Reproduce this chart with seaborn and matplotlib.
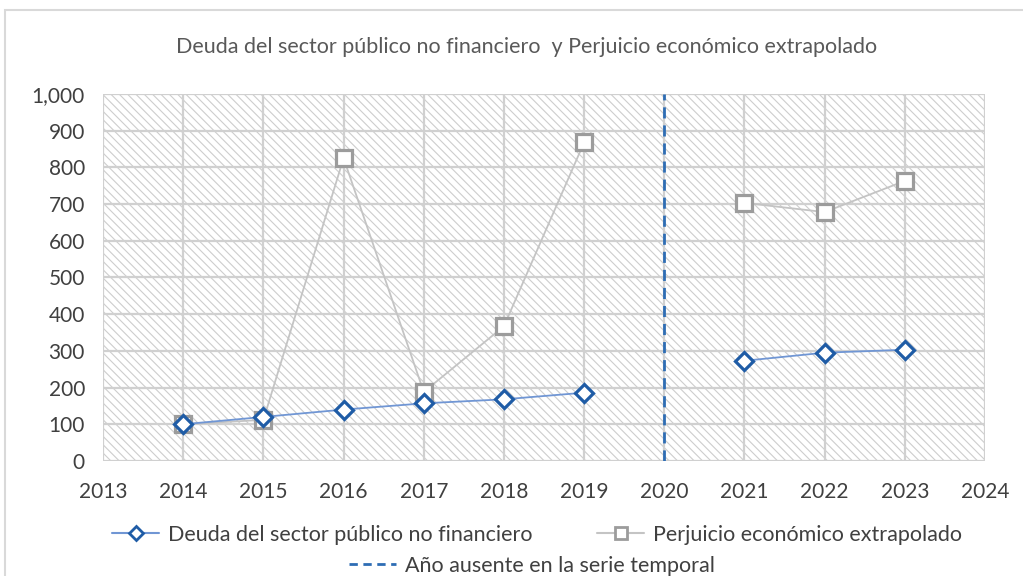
import numpy as np
import pandas as pd
import seaborn as sns
import matplotlib.pyplot as plt
from matplotlib.patches import Rectangle
from matplotlib.lines import Line2D

# datos (2020 ausente)
anios = [2014, 2015, 2016, 2017, 2018, 2019, 2021, 2022, 2023]
deuda = [100, 120, 140, 157, 168, 186, 273, 295, 303]
perjuicio = [100, 112, 825, 188, 367, 868, 703, 678, 763]
tramo = [1, 1, 1, 1, 1, 1, 2, 2, 2]
anio_ausente = 2020

df = pd.DataFrame({'anio': anios, 'deuda': deuda, 'perjuicio': perjuicio, 'tramo': tramo})

sns.set_style('white')
plt.rcParams['font.family'] = ['Lato', 'DejaVu Sans']
plt.rcParams['hatch.linewidth'] = 0.8

fig = plt.figure(figsize=(10.23, 5.76), dpi=100)
ax = fig.add_axes([0.1007, 0.1997, 0.8622, 0.6373])

# fondo rayado del area de trazado
ax.add_patch(Rectangle((0, 0), 1, 1, transform=ax.transAxes, fill=False,
                       hatch='\\\\\\\\', edgecolor='#cdcdcd', linewidth=0, zorder=0))

azul_linea = '#7096d4'
azul_marca = '#1f5ca6'
gris_linea = '#c4c4c4'
gris_marca = '#9c9c9c'

sns.lineplot(data=df, x='anio', y='perjuicio', units='tramo', estimator=None, ax=ax,
             color=gris_linea, linewidth=1.3, marker='s', markersize=12,
             markerfacecolor='white', markeredgecolor=gris_marca, markeredgewidth=2.3, zorder=3)
sns.lineplot(data=df, x='anio', y='deuda', units='tramo', estimator=None, ax=ax,
             color=azul_linea, linewidth=1.3, marker='D', markersize=9,
             markerfacecolor='white', markeredgecolor=azul_marca, markeredgewidth=2.3, zorder=4)

ax.axvline(anio_ausente, color='#2e6db4', linestyle=(0, (4, 2.5)), linewidth=2, zorder=2)

ax.set_xlim(2013, 2024)
ax.set_ylim(0, 1000)
ax.set_xticks(range(2013, 2025))
ax.set_yticks(range(0, 1001, 100))
ax.set_yticklabels([f'{v:,}' for v in range(0, 1001, 100)])
ax.grid(True, color='#d0d0d0', linewidth=1.6, zorder=1)
ax.set_axisbelow(True)
for s in ax.spines.values():
    s.set_visible(False)
ax.tick_params(axis='both', labelsize=15, colors='#404040', length=0)
ax.tick_params(axis='y', pad=13)
ax.tick_params(axis='x', pad=15)
ax.set_xlabel('')
ax.set_ylabel('')

fig.text(0.515, 0.918, 'Deuda del sector público no financiero  y Perjuicio económico extrapolado',
         ha='center', va='center', fontsize=15.5, color='#595959')

# marco del grafico
fig.patches.append(Rectangle((0.005, -0.01), 1.1, 0.993, transform=fig.transFigure,
                             fill=False, edgecolor='#d9d9d9', linewidth=1.5))

h1 = Line2D([], [], color=azul_linea, marker='D', markersize=7, markerfacecolor='white',
            markeredgecolor=azul_marca, markeredgewidth=2)
h2 = Line2D([], [], color=gris_linea, marker='s', markersize=9, markerfacecolor='white',
            markeredgecolor=gris_marca, markeredgewidth=2)
h3 = Line2D([], [], color='#2e6db4', linestyle=(0, (3, 2)), linewidth=2)

fig.legend([h1, h2], ['Deuda del sector público no financiero', 'Perjuicio económico extrapolado'],
           loc='center', bbox_to_anchor=(0.525, 0.072), ncol=2, frameon=False,
           fontsize=15.5, columnspacing=3, handlelength=2.2, handletextpad=0.4,
           labelcolor='#404040')
fig.legend([h3], ['Año ausente en la serie temporal'], loc='center',
           bbox_to_anchor=(0.52, 0.018), frameon=False, fontsize=15.5,
           handlelength=2.2, handletextpad=0.4, labelcolor='#404040')

fig.savefig('out.png', dpi=100)
